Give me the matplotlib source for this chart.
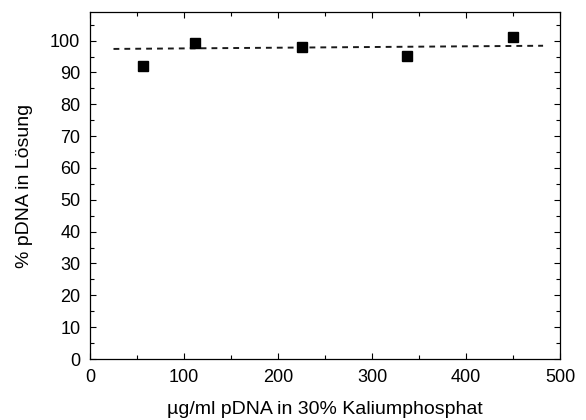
import matplotlib
matplotlib.use("Agg")
import matplotlib.pyplot as plt
from matplotlib.ticker import MultipleLocator

plt.rcParams['font.family'] = ['Liberation Sans', 'DejaVu Sans']

conc = [56, 112, 225, 337, 450]
percent = [92.0, 99.2, 98.1, 95.2, 101.2]
line_x = [25, 482]
line_y = [97.4, 98.4]

fig = plt.figure(figsize=(5.86, 4.2), dpi=100)
ax = fig.add_axes([90/586, 61/420, 470/586, 347/420])

ax.plot(line_x, line_y, linestyle=(0, (3, 2.6)), color='#1a1a1a', linewidth=1.4)
ax.plot(conc, percent, linestyle='none', marker='s', markersize=7.8, color='black')

ax.set_xlim(0, 500)
ax.set_ylim(0, 109)
ax.xaxis.set_major_locator(MultipleLocator(100))
ax.xaxis.set_minor_locator(MultipleLocator(50))
ax.yaxis.set_major_locator(MultipleLocator(10))
ax.yaxis.set_minor_locator(MultipleLocator(5))
ax.tick_params(which='both', direction='in', top=True, right=True, labelsize=13, width=0.8)
ax.tick_params(which='major', length=4.5, pad=7)
ax.tick_params(which='minor', length=3)
for s in ax.spines.values():
    s.set_linewidth(0.9)

ax.set_xlabel('µg/ml pDNA in 30% Kaliumphosphat', fontsize=14, labelpad=11)
ax.set_ylabel('% pDNA in Lösung', fontsize=14, labelpad=12)

fig.savefig('out.png', dpi=100)
